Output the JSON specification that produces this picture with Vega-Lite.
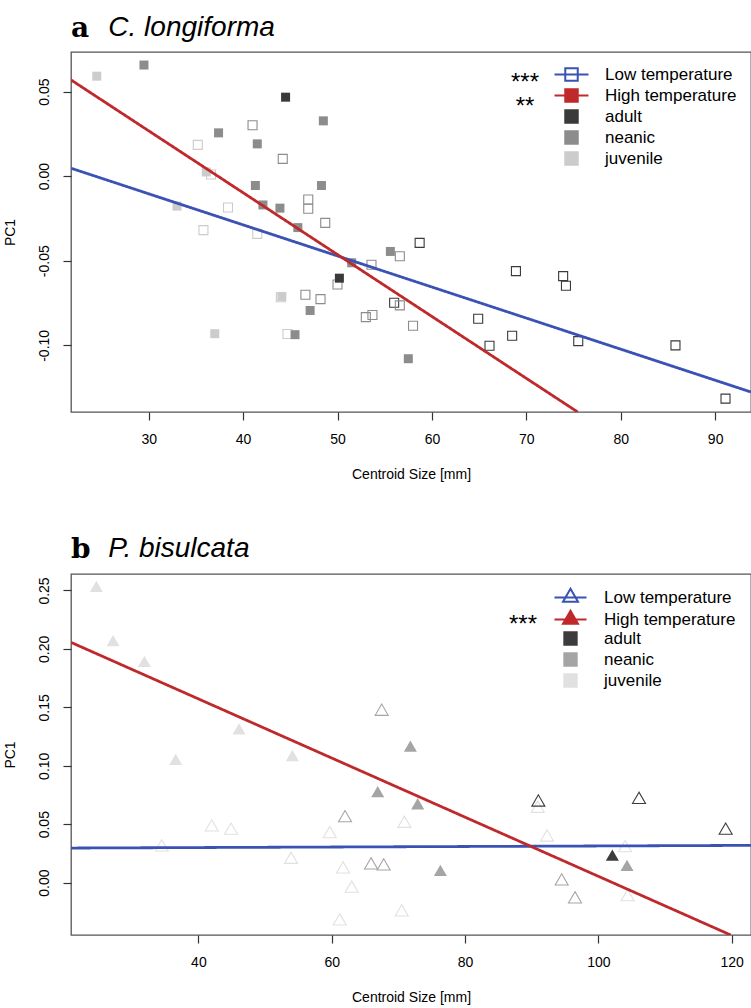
{
  "$schema": "https://vega.github.io/schema/vega-lite/v6.json",
  "background": "white",
  "padding": {"left": 2, "top": 13, "right": 0, "bottom": 0},
  "spacing": 52,
  "config": {
    "view": {"stroke": "#555555", "strokeWidth": 1.3},
    "axis": {"domain": false, "grid": false, "ticks": true, "tickColor": "#333333", "tickSize": 8, "tickWidth": 1.2, "labelFont": "Liberation Sans", "labelFontSize": 14, "labelColor": "#000000", "labelFlush": false, "labelOverlap": false, "titleFont": "Liberation Sans", "titleFontSize": 14, "titleFontWeight": "normal", "titleColor": "#000000"},
    "axisX": {"labelPadding": 12, "titlePadding": 21},
    "axisY": {"labelAngle": -90, "labelAlign": "center", "labelBaseline": "bottom", "labelPadding": 12, "titlePadding": 20}
  },
  "datasets": {
    "a_points": [
      {"cs": 58.7, "pc1": -0.0394, "t": "Low", "stage": "adult"},
      {"cs": 68.9, "pc1": -0.0561, "t": "Low", "stage": "adult"},
      {"cs": 73.9, "pc1": -0.0591, "t": "Low", "stage": "adult"},
      {"cs": 74.2, "pc1": -0.0648, "t": "Low", "stage": "adult"},
      {"cs": 64.9, "pc1": -0.0843, "t": "Low", "stage": "adult"},
      {"cs": 68.5, "pc1": -0.0943, "t": "Low", "stage": "adult"},
      {"cs": 66.1, "pc1": -0.1002, "t": "Low", "stage": "adult"},
      {"cs": 75.5, "pc1": -0.0975, "t": "Low", "stage": "adult"},
      {"cs": 85.8, "pc1": -0.1000, "t": "Low", "stage": "adult"},
      {"cs": 91.1, "pc1": -0.1315, "t": "Low", "stage": "adult"},
      {"cs": 56.0, "pc1": -0.0748, "t": "Low", "stage": "adult"},
      {"cs": 41.0, "pc1": 0.0301, "t": "Low", "stage": "neanic"},
      {"cs": 44.2, "pc1": 0.0102, "t": "Low", "stage": "neanic"},
      {"cs": 46.9, "pc1": -0.0138, "t": "Low", "stage": "neanic"},
      {"cs": 46.9, "pc1": -0.0193, "t": "Low", "stage": "neanic"},
      {"cs": 48.7, "pc1": -0.0276, "t": "Low", "stage": "neanic"},
      {"cs": 56.6, "pc1": -0.0473, "t": "Low", "stage": "neanic"},
      {"cs": 53.6, "pc1": -0.0524, "t": "Low", "stage": "neanic"},
      {"cs": 50.0, "pc1": -0.0640, "t": "Low", "stage": "neanic"},
      {"cs": 46.6, "pc1": -0.0701, "t": "Low", "stage": "neanic"},
      {"cs": 48.2, "pc1": -0.0727, "t": "Low", "stage": "neanic"},
      {"cs": 56.6, "pc1": -0.0764, "t": "Low", "stage": "neanic"},
      {"cs": 53.0, "pc1": -0.0833, "t": "Low", "stage": "neanic"},
      {"cs": 53.7, "pc1": -0.0821, "t": "Low", "stage": "neanic"},
      {"cs": 58.0, "pc1": -0.0884, "t": "Low", "stage": "neanic"},
      {"cs": 35.2, "pc1": 0.0185, "t": "Low", "stage": "juvenile"},
      {"cs": 36.6, "pc1": 0.0010, "t": "Low", "stage": "juvenile"},
      {"cs": 38.4, "pc1": -0.0185, "t": "Low", "stage": "juvenile"},
      {"cs": 35.8, "pc1": -0.0319, "t": "Low", "stage": "juvenile"},
      {"cs": 41.5, "pc1": -0.0341, "t": "Low", "stage": "juvenile"},
      {"cs": 44.0, "pc1": -0.0716, "t": "Low", "stage": "juvenile"},
      {"cs": 44.7, "pc1": -0.0933, "t": "Low", "stage": "juvenile"},
      {"cs": 24.5, "pc1": 0.0591, "t": "High", "stage": "juvenile"},
      {"cs": 36.1, "pc1": 0.0025, "t": "High", "stage": "juvenile"},
      {"cs": 33.0, "pc1": -0.0177, "t": "High", "stage": "juvenile"},
      {"cs": 44.1, "pc1": -0.0711, "t": "High", "stage": "juvenile"},
      {"cs": 37.0, "pc1": -0.0931, "t": "High", "stage": "juvenile"},
      {"cs": 29.5, "pc1": 0.0657, "t": "High", "stage": "neanic"},
      {"cs": 48.5, "pc1": 0.0327, "t": "High", "stage": "neanic"},
      {"cs": 37.4, "pc1": 0.0256, "t": "High", "stage": "neanic"},
      {"cs": 41.5, "pc1": 0.0191, "t": "High", "stage": "neanic"},
      {"cs": 41.3, "pc1": -0.0055, "t": "High", "stage": "neanic"},
      {"cs": 48.3, "pc1": -0.0055, "t": "High", "stage": "neanic"},
      {"cs": 42.1, "pc1": -0.0170, "t": "High", "stage": "neanic"},
      {"cs": 43.9, "pc1": -0.0189, "t": "High", "stage": "neanic"},
      {"cs": 45.8, "pc1": -0.0304, "t": "High", "stage": "neanic"},
      {"cs": 55.6, "pc1": -0.0445, "t": "High", "stage": "neanic"},
      {"cs": 51.5, "pc1": -0.0512, "t": "High", "stage": "neanic"},
      {"cs": 47.1, "pc1": -0.0794, "t": "High", "stage": "neanic"},
      {"cs": 45.5, "pc1": -0.0937, "t": "High", "stage": "neanic"},
      {"cs": 57.5, "pc1": -0.1079, "t": "High", "stage": "neanic"},
      {"cs": 44.5, "pc1": 0.0467, "t": "High", "stage": "adult"},
      {"cs": 50.2, "pc1": -0.0603, "t": "High", "stage": "adult"}
    ],
    "a_lines": [
      {"cs": 21.77, "pc1": 0.0047, "series": "Low temperature", "sig": "***"},
      {"cs": 93.8, "pc1": -0.1276, "series": "Low temperature", "sig": "***"},
      {"cs": 21.77, "pc1": 0.0569, "series": "High temperature", "sig": "**"},
      {"cs": 75.44, "pc1": -0.1394, "series": "High temperature", "sig": "**"}
    ],
    "b_points": [
      {"cs": 42.0, "pc1": 0.0490, "t": "Low", "stage": "juvenile"},
      {"cs": 44.9, "pc1": 0.0462, "t": "Low", "stage": "juvenile"},
      {"cs": 34.5, "pc1": 0.0319, "t": "Low", "stage": "juvenile"},
      {"cs": 59.7, "pc1": 0.0433, "t": "Low", "stage": "juvenile"},
      {"cs": 53.9, "pc1": 0.0213, "t": "Low", "stage": "juvenile"},
      {"cs": 61.7, "pc1": 0.0131, "t": "Low", "stage": "juvenile"},
      {"cs": 63.0, "pc1": -0.0034, "t": "Low", "stage": "juvenile"},
      {"cs": 61.2, "pc1": -0.0314, "t": "Low", "stage": "juvenile"},
      {"cs": 70.9, "pc1": 0.0521, "t": "Low", "stage": "juvenile"},
      {"cs": 70.5, "pc1": -0.0237, "t": "Low", "stage": "juvenile"},
      {"cs": 90.9, "pc1": 0.0650, "t": "Low", "stage": "juvenile"},
      {"cs": 92.3, "pc1": 0.0404, "t": "Low", "stage": "juvenile"},
      {"cs": 104.0, "pc1": 0.0313, "t": "Low", "stage": "juvenile"},
      {"cs": 104.4, "pc1": -0.0106, "t": "Low", "stage": "juvenile"},
      {"cs": 67.5, "pc1": 0.1480, "t": "Low", "stage": "neanic"},
      {"cs": 62.0, "pc1": 0.0569, "t": "Low", "stage": "neanic"},
      {"cs": 65.9, "pc1": 0.0165, "t": "Low", "stage": "neanic"},
      {"cs": 67.8, "pc1": 0.0156, "t": "Low", "stage": "neanic"},
      {"cs": 94.5, "pc1": 0.0028, "t": "Low", "stage": "neanic"},
      {"cs": 96.5, "pc1": -0.0126, "t": "Low", "stage": "neanic"},
      {"cs": 91.0, "pc1": 0.0703, "t": "Low", "stage": "adult"},
      {"cs": 106.1, "pc1": 0.0726, "t": "Low", "stage": "adult"},
      {"cs": 119.1, "pc1": 0.0462, "t": "Low", "stage": "adult"},
      {"cs": 24.7, "pc1": 0.2535, "t": "High", "stage": "juvenile"},
      {"cs": 27.2, "pc1": 0.2071, "t": "High", "stage": "juvenile"},
      {"cs": 31.9, "pc1": 0.1894, "t": "High", "stage": "juvenile"},
      {"cs": 46.1, "pc1": 0.1316, "t": "High", "stage": "juvenile"},
      {"cs": 36.6, "pc1": 0.1054, "t": "High", "stage": "juvenile"},
      {"cs": 54.1, "pc1": 0.1088, "t": "High", "stage": "juvenile"},
      {"cs": 66.9, "pc1": 0.0778, "t": "High", "stage": "neanic"},
      {"cs": 71.8, "pc1": 0.1168, "t": "High", "stage": "neanic"},
      {"cs": 72.9, "pc1": 0.0675, "t": "High", "stage": "neanic"},
      {"cs": 76.3, "pc1": 0.0105, "t": "High", "stage": "neanic"},
      {"cs": 104.3, "pc1": 0.0148, "t": "High", "stage": "neanic"},
      {"cs": 102.1, "pc1": 0.0236, "t": "High", "stage": "adult"}
    ],
    "b_lines": [
      {"cs": 20.89, "pc1": 0.0296, "series": "Low temperature", "sig": "n.s."},
      {"cs": 122.9, "pc1": 0.0319, "series": "Low temperature", "sig": "n.s."},
      {"cs": 20.89, "pc1": 0.2056, "series": "High temperature", "sig": "***"},
      {"cs": 119.85, "pc1": -0.0448, "series": "High temperature", "sig": "***"}
    ]
  },
  "vconcat": [
    {
      "width": 680,
      "height": 360,
      "title": {"text": "a", "subtitle": "\u200b\u2002\u2002\u2004C. longiforma", "anchor": "start", "frame": "group", "font": "DejaVu Serif", "fontWeight": "bold", "fontSize": 28, "color": "#000000", "subtitleFont": "Liberation Sans", "subtitleFontStyle": "italic", "subtitleFontSize": 28, "subtitleColor": "#000000", "subtitlePadding": -29, "offset": 8},
      "encoding": {
        "x": {"field": "cs", "type": "quantitative", "scale": {"domain": [21.77, 93.8], "nice": false, "zero": false}, "axis": {"values": [30, 40, 50, 60, 70, 80, 90], "title": "Centroid Size [mm]"}},
        "y": {"field": "pc1", "type": "quantitative", "scale": {"domain": [-0.1394, 0.0734], "nice": false, "zero": false}, "axis": {"values": [-0.1, -0.05, 0, 0.05], "title": "PC1", "labelExpr": "replace(format(datum.value, '.2f'), '\u2212', '-')"}}
      },
      "layer": [
        {
          "data": {"name": "a_points"},
          "transform": [{"filter": "datum.t === 'Low'"}],
          "mark": {"type": "point", "shape": "square", "filled": false, "size": 81, "strokeWidth": 1.1, "opacity": 1},
          "encoding": {
            "color": {"field": "stage", "type": "nominal", "scale": {"domain": ["Low temperature", "High temperature", "adult", "neanic", "juvenile"], "range": ["#3a52b4", "#c0292b", "#3a3a3a", "#8c8c8c", "#cccccc"]},
              "legend": {"title": null, "orient": "top-right", "offset": 11, "padding": 3, "labelFont": "Liberation Sans", "labelFontSize": 17, "labelColor": "#000000", "labelLimit": 400, "symbolSize": 144, "symbolStrokeWidth": 2, "labelOffset": 25, "rowPadding": 0,
                "encode": {"symbols": {"update": {
                  "shape": {"signal": "datum.value === 'Low temperature' || datum.value === 'High temperature' ? 'M-2.83,0H2.83M-1.04,-1.04H1.04V1.04H-1.04Z' : 'M-1.04,-1.04H1.04V1.04H-1.04Z'"},
                  "fill": {"signal": "datum.value === 'Low temperature' ? 'transparent' : datum.value === 'High temperature' ? '#c0292b' : datum.value === 'adult' ? '#3a3a3a' : datum.value === 'neanic' ? '#8c8c8c' : '#cccccc'"},
                  "fillOpacity": {"signal": "datum.value === 'Low temperature' ? 0 : 1"},
                  "stroke": {"signal": "datum.value === 'Low temperature' ? '#3a52b4' : datum.value === 'High temperature' ? '#c0292b' : 'transparent'"},
                  "strokeOpacity": {"value": 1},
                  "strokeWidth": {"value": 2},
                  "opacity": {"value": 1}
                }}}
              }}
          }
        },
        {
          "data": {"name": "a_points"},
          "transform": [{"filter": "datum.t === 'High'"}],
          "mark": {"type": "square", "size": 81, "opacity": 1},
          "encoding": {
            "color": {"field": "stage", "type": "nominal", "scale": {"domain": ["Low temperature", "High temperature", "adult", "neanic", "juvenile"], "range": ["#3a52b4", "#c0292b", "#3a3a3a", "#8c8c8c", "#cccccc"]},
              "legend": {"title": null, "orient": "top-right", "offset": 11, "padding": 3, "labelFont": "Liberation Sans", "labelFontSize": 17, "labelColor": "#000000", "labelLimit": 400, "symbolSize": 144, "symbolStrokeWidth": 2, "labelOffset": 25, "rowPadding": 0,
                "encode": {"symbols": {"update": {
                  "shape": {"signal": "datum.value === 'Low temperature' || datum.value === 'High temperature' ? 'M-2.83,0H2.83M-1.04,-1.04H1.04V1.04H-1.04Z' : 'M-1.04,-1.04H1.04V1.04H-1.04Z'"},
                  "fill": {"signal": "datum.value === 'Low temperature' ? 'transparent' : datum.value === 'High temperature' ? '#c0292b' : datum.value === 'adult' ? '#3a3a3a' : datum.value === 'neanic' ? '#8c8c8c' : '#cccccc'"},
                  "fillOpacity": {"signal": "datum.value === 'Low temperature' ? 0 : 1"},
                  "stroke": {"signal": "datum.value === 'Low temperature' ? '#3a52b4' : datum.value === 'High temperature' ? '#c0292b' : 'transparent'"},
                  "strokeOpacity": {"value": 1},
                  "strokeWidth": {"value": 2},
                  "opacity": {"value": 1}
                }}}
              }}
          }
        },
        {
          "data": {"name": "a_lines"},
          "mark": {"type": "line", "strokeWidth": 2.8, "clip": true},
          "encoding": {
            "color": {"field": "series", "type": "nominal", "scale": {"domain": ["Low temperature", "High temperature", "adult", "neanic", "juvenile"], "range": ["#3a52b4", "#c0292b", "#3a3a3a", "#8c8c8c", "#cccccc"]},
              "legend": {"title": null, "orient": "top-right", "offset": 11, "padding": 3, "labelFont": "Liberation Sans", "labelFontSize": 17, "labelColor": "#000000", "labelLimit": 400, "symbolSize": 144, "symbolStrokeWidth": 2, "labelOffset": 25, "rowPadding": 0,
                "encode": {"symbols": {"update": {
                  "shape": {"signal": "datum.value === 'Low temperature' || datum.value === 'High temperature' ? 'M-2.83,0H2.83M-1.04,-1.04H1.04V1.04H-1.04Z' : 'M-1.04,-1.04H1.04V1.04H-1.04Z'"},
                  "fill": {"signal": "datum.value === 'Low temperature' ? 'transparent' : datum.value === 'High temperature' ? '#c0292b' : datum.value === 'adult' ? '#3a3a3a' : datum.value === 'neanic' ? '#8c8c8c' : '#cccccc'"},
                  "fillOpacity": {"signal": "datum.value === 'Low temperature' ? 0 : 1"},
                  "stroke": {"signal": "datum.value === 'Low temperature' ? '#3a52b4' : datum.value === 'High temperature' ? '#c0292b' : 'transparent'"},
                  "strokeOpacity": {"value": 1},
                  "strokeWidth": {"value": 2},
                  "opacity": {"value": 1}
                }}}
              }},
            "strokeDash": {"field": "sig", "type": "nominal", "scale": {"domain": ["***", "**"], "range": [[1, 0], [1, 0]]},
              "legend": {"title": null, "orient": "none", "legendX": 430, "legendY": 19, "padding": 0, "labelFont": "Liberation Sans", "labelFontSize": 24, "labelColor": "#000000", "symbolSize": 0, "symbolStrokeWidth": 0, "symbolOpacity": 0, "labelOffset": 0, "labelAlign": "center", "rowPadding": 0}}
          }
        }
      ]
    },
    {
      "width": 680,
      "height": 361,
      "title": {"text": "b", "subtitle": "\u200b\u2002\u2002\u2004P. bisulcata", "anchor": "start", "frame": "group", "font": "DejaVu Serif", "fontWeight": "bold", "fontSize": 28, "color": "#000000", "subtitleFont": "Liberation Sans", "subtitleFontStyle": "italic", "subtitleFontSize": 28, "subtitleColor": "#000000", "subtitlePadding": -29, "offset": 9},
      "encoding": {
        "x": {"field": "cs", "type": "quantitative", "scale": {"domain": [20.89, 122.9], "nice": false, "zero": false}, "axis": {"values": [40, 60, 80, 100, 120], "title": "Centroid Size [mm]"}},
        "y": {"field": "pc1", "type": "quantitative", "scale": {"domain": [-0.0448, 0.2641], "nice": false, "zero": false}, "axis": {"values": [0, 0.05, 0.1, 0.15, 0.2, 0.25], "title": "PC1", "labelExpr": "replace(format(datum.value, '.2f'), '\u2212', '-')"}}
      },
      "layer": [
        {
          "data": {"name": "b_points"},
          "transform": [{"filter": "datum.t === 'Low'"}],
          "mark": {"type": "point", "shape": "triangle-up", "filled": false, "size": 170, "strokeWidth": 1.1, "opacity": 1},
          "encoding": {
            "color": {"field": "stage", "type": "nominal", "scale": {"domain": ["Low temperature", "High temperature", "adult", "neanic", "juvenile"], "range": ["#3a52b4", "#c0292b", "#3c3c3c", "#a5a5a5", "#e1e1e1"]},
              "legend": {"title": null, "orient": "top-right", "offset": 12, "padding": 3, "labelFont": "Liberation Sans", "labelFontSize": 17, "labelColor": "#000000", "labelLimit": 400, "symbolSize": 144, "symbolStrokeWidth": 2, "labelOffset": 25, "rowPadding": 0,
                "encode": {"symbols": {"update": {
                  "shape": {"signal": "datum.value === 'Low temperature' || datum.value === 'High temperature' ? 'M-2.67,0H2.67M0,-1.47L1.25,0.72L-1.25,0.72Z' : 'M-1.03,-1.03H1.03V1.03H-1.03Z'"},
                  "fill": {"signal": "datum.value === 'Low temperature' ? 'transparent' : datum.value === 'High temperature' ? '#c0292b' : datum.value === 'adult' ? '#3c3c3c' : datum.value === 'neanic' ? '#a5a5a5' : '#e1e1e1'"},
                  "fillOpacity": {"signal": "datum.value === 'Low temperature' ? 0 : 1"},
                  "stroke": {"signal": "datum.value === 'Low temperature' ? '#3a52b4' : datum.value === 'High temperature' ? '#c0292b' : 'transparent'"},
                  "strokeOpacity": {"value": 1},
                  "strokeWidth": {"value": 2},
                  "opacity": {"value": 1}
                }}}
              }}
          }
        },
        {
          "data": {"name": "b_points"},
          "transform": [{"filter": "datum.t === 'High'"}],
          "mark": {"type": "point", "shape": "triangle-up", "filled": true, "size": 170, "opacity": 1},
          "encoding": {
            "color": {"field": "stage", "type": "nominal", "scale": {"domain": ["Low temperature", "High temperature", "adult", "neanic", "juvenile"], "range": ["#3a52b4", "#c0292b", "#3c3c3c", "#a5a5a5", "#e1e1e1"]},
              "legend": {"title": null, "orient": "top-right", "offset": 12, "padding": 3, "labelFont": "Liberation Sans", "labelFontSize": 17, "labelColor": "#000000", "labelLimit": 400, "symbolSize": 144, "symbolStrokeWidth": 2, "labelOffset": 25, "rowPadding": 0,
                "encode": {"symbols": {"update": {
                  "shape": {"signal": "datum.value === 'Low temperature' || datum.value === 'High temperature' ? 'M-2.67,0H2.67M0,-1.47L1.25,0.72L-1.25,0.72Z' : 'M-1.03,-1.03H1.03V1.03H-1.03Z'"},
                  "fill": {"signal": "datum.value === 'Low temperature' ? 'transparent' : datum.value === 'High temperature' ? '#c0292b' : datum.value === 'adult' ? '#3c3c3c' : datum.value === 'neanic' ? '#a5a5a5' : '#e1e1e1'"},
                  "fillOpacity": {"signal": "datum.value === 'Low temperature' ? 0 : 1"},
                  "stroke": {"signal": "datum.value === 'Low temperature' ? '#3a52b4' : datum.value === 'High temperature' ? '#c0292b' : 'transparent'"},
                  "strokeOpacity": {"value": 1},
                  "strokeWidth": {"value": 2},
                  "opacity": {"value": 1}
                }}}
              }}
          }
        },
        {
          "data": {"name": "b_lines"},
          "mark": {"type": "line", "strokeWidth": 2.8, "clip": true},
          "encoding": {
            "color": {"field": "series", "type": "nominal", "scale": {"domain": ["Low temperature", "High temperature", "adult", "neanic", "juvenile"], "range": ["#3a52b4", "#c0292b", "#3c3c3c", "#a5a5a5", "#e1e1e1"]},
              "legend": {"title": null, "orient": "top-right", "offset": 12, "padding": 3, "labelFont": "Liberation Sans", "labelFontSize": 17, "labelColor": "#000000", "labelLimit": 400, "symbolSize": 144, "symbolStrokeWidth": 2, "labelOffset": 25, "rowPadding": 0,
                "encode": {"symbols": {"update": {
                  "shape": {"signal": "datum.value === 'Low temperature' || datum.value === 'High temperature' ? 'M-2.67,0H2.67M0,-1.47L1.25,0.72L-1.25,0.72Z' : 'M-1.03,-1.03H1.03V1.03H-1.03Z'"},
                  "fill": {"signal": "datum.value === 'Low temperature' ? 'transparent' : datum.value === 'High temperature' ? '#c0292b' : datum.value === 'adult' ? '#3c3c3c' : datum.value === 'neanic' ? '#a5a5a5' : '#e1e1e1'"},
                  "fillOpacity": {"signal": "datum.value === 'Low temperature' ? 0 : 1"},
                  "stroke": {"signal": "datum.value === 'Low temperature' ? '#3a52b4' : datum.value === 'High temperature' ? '#c0292b' : 'transparent'"},
                  "strokeOpacity": {"value": 1},
                  "strokeWidth": {"value": 2},
                  "opacity": {"value": 1}
                }}}
              }},
            "strokeDash": {"field": "sig", "type": "nominal", "scale": {"domain": ["n.s.", "***"], "range": [[1, 0], [1, 0]]},
              "legend": {"title": null, "orient": "none", "legendX": 428, "legendY": 15, "padding": 0, "labelFont": "Liberation Sans", "labelFontSize": 24, "labelColor": "#000000", "symbolSize": 0, "symbolStrokeWidth": 0, "symbolOpacity": 0, "labelOffset": 0, "labelAlign": "center", "rowPadding": 0, "labelExpr": "datum.label === 'n.s.' ? '' : datum.label"}}
          }
        }
      ]
    }
  ],
  "resolve": {
    "scale": {"color": "independent", "strokeDash": "independent"},
    "legend": {"color": "independent", "strokeDash": "independent"}
  }
}
